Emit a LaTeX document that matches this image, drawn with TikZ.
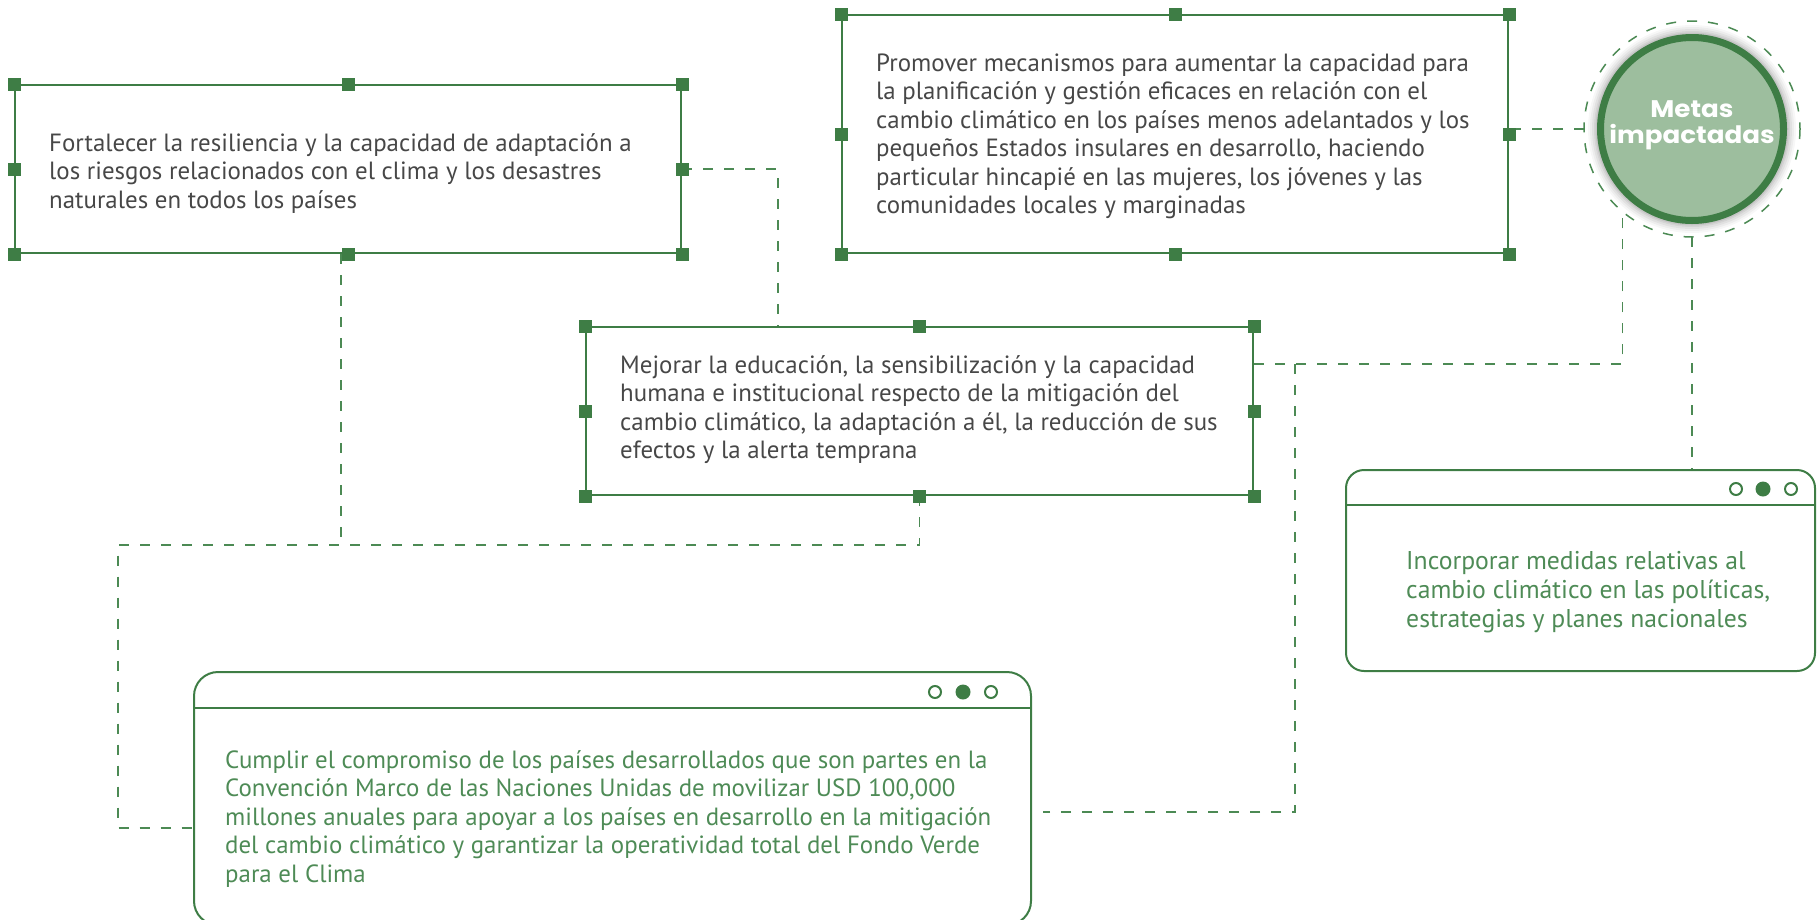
\documentclass[tikz,border=0pt]{standalone}
\usepackage{fontspec}
\setmainfont{PT Sans}
\newfontfamily\circfont{Poppins}[FakeStretch=1.09]
\usetikzlibrary{calc}
\definecolor{grn}{HTML}{3E7D45}
\definecolor{dgrn}{HTML}{4C8A54}
\definecolor{tgray}{HTML}{474747}
\definecolor{tgrn}{HTML}{4E8B56}
\definecolor{cfill}{HTML}{9DBE9E}
\definecolor{ringc}{HTML}{3E7D45}
\newcommand{\mylines}[1]{\begin{tabular}[t]{@{}l@{}}#1\end{tabular}}
\begin{document}
\begin{tikzpicture}[x=1pt,y=-1pt,
  box/.style={draw=grn, line width=2pt, inner sep=0pt, rectangle},
  win/.style={draw=grn, line width=2pt, inner sep=0pt, rectangle, rounded corners=#1},
  dl/.style={draw=dgrn, line width=1.6pt, dash pattern=on 10pt off 11pt},
  txt/.style={anchor=base west, inner sep=0pt, font=\fontsize{24.9}{28.5}\selectfont},
  sqfill/.style={fill=grn}
]
\useasboundingbox (0,0) rectangle (1817,919);
\clip (0,0) rectangle (1817,919);

% boxes
\node[box, minimum width=666pt, minimum height=168pt] (b1) at (348,169) {};
\node[box, minimum width=666pt, minimum height=238pt] (b2) at (1175,134) {};
\node[box, minimum width=667pt, minimum height=168pt] (b3) at (919.5,411) {};
\node[win=18pt, minimum width=469pt, minimum height=201pt] (b4) at (1580.5,570.5) {};
\node[win=24pt, minimum width=837pt, minimum height=253pt] (b5) at (612.5,798.5) {};

% circle
\node[circle, minimum size=216pt, inner sep=0pt] (c) at (1692,129) {};
\foreach \r/\o in {104/0.03,102/0.04,100/0.05,98/0.06,96.5/0.07}
  \fill[black, opacity=\o] (c.center) circle (\r);
\fill[cfill] (c.center) circle (91.5);
\draw[ringc, line width=7pt] (c.center) circle (91.5);
\draw[dl, line width=1.5pt] (c.center) circle (108);
\node[anchor=base, inner sep=0pt, text=white, font=\circfont\bfseries\fontsize{24}{23}\selectfont, align=center] (ct) at (1692,117) {\begin{tabular}[t]{@{}c@{}}Metas\\impactadas\end{tabular}};

% connectors
\coordinate (a1) at ($(b3.north west)+(193,0)$);
\draw[dl] (b1.east) -| (a1);
\coordinate (bb) at ($(b1.south)+(-7,0)$);
\coordinate (bj) at (341,545);
\draw[dl] (bb) -- (bj);
\coordinate (cl) at (118,545);
\draw[dl] (b3.south) |- (cl) |- (b5.west |- 0,828);
\draw[dl] (c.west) -- (c.west -| b2.east);
\draw[dl] (b3.east |- 0,364) -| (c.230);
\coordinate (fbr) at (1295,364);
\coordinate (fend) at (1043,812);
\draw[dl] (fbr) |- (fend);
\draw[dl] (c.south) -- (b4.north -| c.south);

% corner squares
\foreach \b in {b1,b2,b3}
  \foreach \a in {north west,north,north east,west,east,south west,south,south east}
    \fill[sqfill] (\b.\a) ++(-6.5,-6.5) rectangle ++(13,13);

% window headers & dots
\draw[grn, line width=2pt] (b4.west |- 0,505) -- (b4.east |- 0,505);
\draw[grn, line width=2pt] (1736,489) circle (6);
\fill[grn] (1763,489) circle (7.5);
\draw[grn, line width=2pt] (1791,489) circle (6);
\draw[grn, line width=2pt] (b5.west |- 0,708) -- (b5.east |- 0,708);
\draw[grn, line width=2pt] (935,692) circle (6);
\fill[grn] (963,692) circle (7.5);
\draw[grn, line width=2pt] (991,692) circle (6);

% texts
\node[txt, text=tgray] (t1) at (49,151) {\mylines{Fortalecer la resiliencia y la capacidad de adaptación a\\los riesgos relacionados con el clima y los desastres\\naturales en todos los países}};
\node[txt, text=tgray] (t2) at (876,71) {\mylines{Promover mecanismos para aumentar la capacidad para\\la planificación y gestión eficaces en relación con el\\cambio climático en los países menos adelantados y los\\pequeños Estados insulares en desarrollo, haciendo\\particular hincapié en las mujeres, los jóvenes y las\\comunidades locales y marginadas}};
\node[txt, text=tgray] (t3) at (620,373) {\mylines{Mejorar la educación, la sensibilización y la capacidad\\humana e institucional respecto de la mitigación del\\cambio climático, la adaptación a él, la reducción de sus\\efectos y la alerta temprana}};
\node[txt, text=tgrn, font=\fontsize{25.7}{29}\selectfont] (t4) at (1406,569) {\mylines{Incorporar medidas relativas al\\cambio climático en las políticas,\\estrategias y planes nacionales}};
\node[txt, text=tgrn] (t5) at (225,768) {\mylines{Cumplir el compromiso de los países desarrollados que son partes en la\\Convención Marco de las Naciones Unidas de movilizar USD 100,000\\millones anuales para apoyar a los países en desarrollo en la mitigación\\del cambio climático y garantizar la operatividad total del Fondo Verde\\para el Clima}};
\end{tikzpicture}
\end{document}
